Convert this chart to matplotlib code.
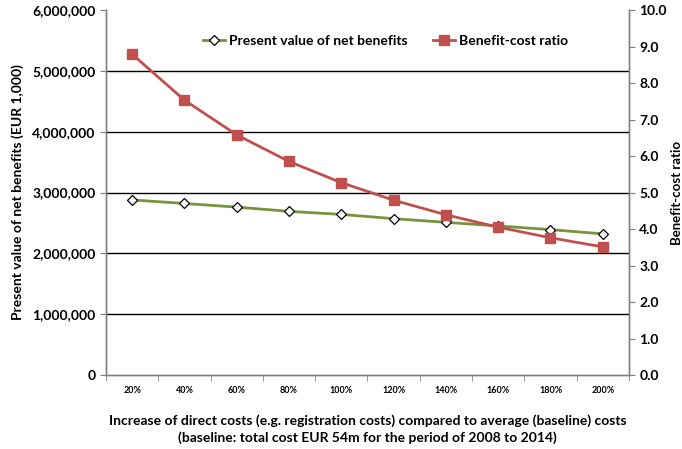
import matplotlib
matplotlib.use("Agg")
import matplotlib.pyplot as plt
from matplotlib.ticker import FuncFormatter, FixedLocator
import numpy as np

categories = ["20%", "40%", "60%", "80%", "100%", "120%", "140%", "160%", "180%", "200%"]
net_benefits = [2878000, 2820000, 2760000, 2690000, 2640000, 2570000, 2510000, 2450000, 2390000, 2320000]
bc_ratio = [8.79, 7.53, 6.58, 5.85, 5.27, 4.79, 4.39, 4.05, 3.76, 3.51]

plt.rcParams["font.family"] = ["Lato", "DejaVu Sans"]
plt.rcParams["font.weight"] = "bold"

RED = "#C0504D"
GREEN = "#77933C"

fig = plt.figure(figsize=(6.82, 4.49), dpi=100)
ax = fig.add_axes([0.1554, 0.1648, 0.7668, 0.8129])
ax2 = ax.twinx()

x = np.arange(len(categories))

ln1, = ax.plot(x, net_benefits, color=GREEN, lw=2, marker="D", ms=5.5,
               mfc="white", mec="black", mew=0.9, zorder=3,
               label="Present value of net benefits")
ln2, = ax2.plot(x, bc_ratio, color=RED, lw=2, marker="s", ms=6.5,
                mfc=RED, mec=RED, zorder=3, label="Benefit-cost ratio")

ax.set_xlim(-0.5, len(categories) - 0.5)
ax.set_ylim(0, 6000000)
ax2.set_ylim(0, 10)

ax.set_yticks(np.arange(0, 6000001, 1000000))
ax.yaxis.set_major_formatter(FuncFormatter(lambda v, p: f"{int(v):,}"))
ax2.set_yticks(np.arange(0, 10.01, 1))
ax2.yaxis.set_major_formatter(FuncFormatter(lambda v, p: f"{v:.1f}"))

ax.set_xticks(x)
ax.set_xticklabels(categories, fontsize=6.5, fontweight="bold")
ax.xaxis.set_minor_locator(FixedLocator(np.arange(-0.5, len(categories), 1)))
ax.tick_params(axis="x", which="major", length=0, pad=8)
ax.tick_params(axis="x", which="minor", length=4, direction="out", color="#808080")

for y in np.arange(1000000, 5000001, 1000000):
    ax.axhline(y, color="black", lw=1, zorder=1)

ax.tick_params(axis="y", labelsize=10, length=4, direction="out", color="#808080")
ax2.tick_params(axis="y", labelsize=10, length=4, direction="out", color="#808080")
for a in (ax, ax2):
    for lab in a.get_yticklabels():
        lab.set_fontweight("bold")
    a.spines["top"].set_visible(False)
    for s in ("left", "right", "bottom"):
        a.spines[s].set_color("#808080")
        a.spines[s].set_linewidth(1)

ax.set_ylabel("Present value of net benefits (EUR 1,000)", fontsize=10, fontweight="bold", labelpad=6)
ax2.set_ylabel("Benefit-cost ratio", fontsize=9.5, fontweight="bold", labelpad=3)
ax.set_xlabel("Increase of direct costs (e.g. registration costs) compared to average (baseline) costs\n"
              "(baseline: total cost EUR 54m for the period of 2008 to 2014)",
              fontsize=10, fontweight="bold", labelpad=14, linespacing=1.4)

leg = ax.legend(handles=[ln1, ln2], loc="upper center", bbox_to_anchor=(0.535, 0.965),
                ncol=2, frameon=False, fontsize=10, handlelength=1.6,
                columnspacing=1.8, handletextpad=0.3)
for t in leg.get_texts():
    t.set_fontweight("bold")

fig.savefig("out.png", dpi=100)
